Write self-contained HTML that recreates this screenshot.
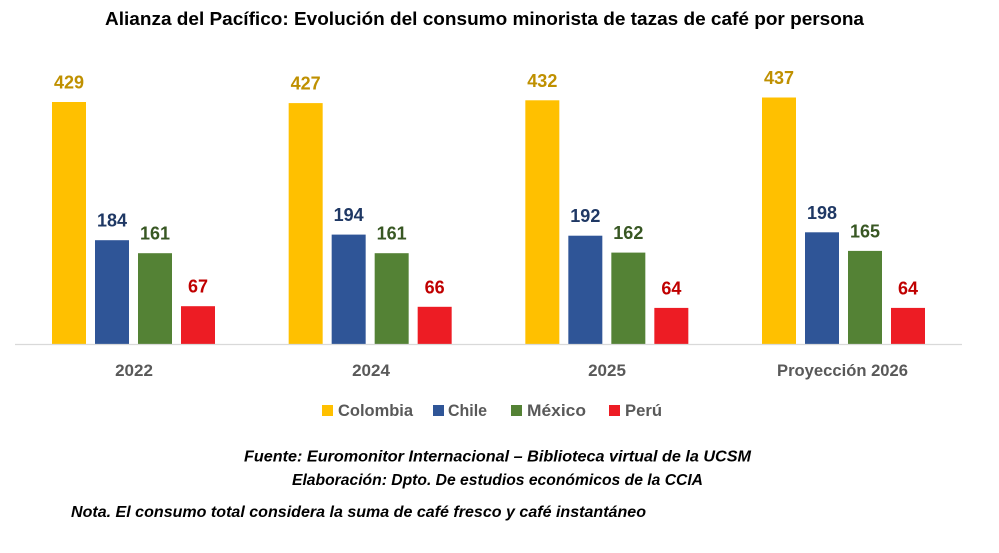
<!DOCTYPE html>
<html>
<head>
<meta charset="utf-8">
<style>
  html, body { margin: 0; padding: 0; background: #ffffff; }
  body { width: 999px; height: 553px; overflow: hidden; }
  svg { display: block; font-family: "Liberation Sans", Arial, sans-serif; }
</style>
</head>
<body>
<svg width="999" height="553" viewBox="0 0 999 553" xmlns="http://www.w3.org/2000/svg">
  <rect x="0" y="0" width="999" height="553" fill="#ffffff"/>

  <!-- Title -->
  <text x="105" y="25" font-size="18" font-weight="bold" fill="#000000" textLength="759" lengthAdjust="spacingAndGlyphs">Alianza del Pacífico: Evolución del consumo minorista de tazas de café por persona</text>

  <!-- Bars Group 1 (2022) -->
  <rect x="52" y="102" width="34" height="242" fill="#FFC000"/>
  <rect x="95" y="240.2" width="34" height="103.8" fill="#2F5597"/>
  <rect x="138" y="253.2" width="34" height="90.8" fill="#548235"/>
  <rect x="181" y="306.2" width="34" height="37.8" fill="#ED1C24"/>

  <!-- Bars Group 2 (2024) -->
  <rect x="288.67" y="103.1" width="34" height="240.9" fill="#FFC000"/>
  <rect x="331.67" y="234.6" width="34" height="109.4" fill="#2F5597"/>
  <rect x="374.67" y="253.2" width="34" height="90.8" fill="#548235"/>
  <rect x="417.67" y="306.8" width="34" height="37.2" fill="#ED1C24"/>

  <!-- Bars Group 3 (2025) -->
  <rect x="525.33" y="100.3" width="34" height="243.7" fill="#FFC000"/>
  <rect x="568.33" y="235.7" width="34" height="108.3" fill="#2F5597"/>
  <rect x="611.33" y="252.6" width="34" height="91.4" fill="#548235"/>
  <rect x="654.33" y="307.9" width="34" height="36.1" fill="#ED1C24"/>

  <!-- Bars Group 4 (Proyección 2026) -->
  <rect x="762" y="97.5" width="34" height="246.5" fill="#FFC000"/>
  <rect x="805" y="232.3" width="34" height="111.7" fill="#2F5597"/>
  <rect x="848" y="250.9" width="34" height="93.1" fill="#548235"/>
  <rect x="891" y="307.9" width="34" height="36.1" fill="#ED1C24"/>

  <!-- Axis line -->
  <line x1="15" y1="344.5" x2="962" y2="344.5" stroke="#D9D9D9" stroke-width="1.2"/>

  <!-- Data labels -->
  <g font-size="18" font-weight="bold" text-anchor="middle">
    <text x="69" y="88.5" fill="#BF9000">429</text>
    <text x="112" y="226.7" fill="#1F3864">184</text>
    <text x="155" y="239.7" fill="#385723">161</text>
    <text x="198" y="292.7" fill="#C00000">67</text>

    <text x="305.67" y="89.6" fill="#BF9000">427</text>
    <text x="348.67" y="221.1" fill="#1F3864">194</text>
    <text x="391.67" y="239.7" fill="#385723">161</text>
    <text x="434.67" y="293.3" fill="#C00000">66</text>

    <text x="542.33" y="86.8" fill="#BF9000">432</text>
    <text x="585.33" y="222.2" fill="#1F3864">192</text>
    <text x="628.33" y="239.1" fill="#385723">162</text>
    <text x="671.33" y="294.4" fill="#C00000">64</text>

    <text x="779" y="84" fill="#BF9000">437</text>
    <text x="822" y="218.8" fill="#1F3864">198</text>
    <text x="865" y="237.4" fill="#385723">165</text>
    <text x="908" y="294.4" fill="#C00000">64</text>
  </g>

  <!-- Category labels -->
  <g font-size="17" font-weight="bold" fill="#595959" text-anchor="middle">
    <text x="134" y="376">2022</text>
    <text x="371" y="376">2024</text>
    <text x="607" y="376">2025</text>
    <text x="842.5" y="376" textLength="131" lengthAdjust="spacingAndGlyphs">Proyección 2026</text>
  </g>

  <!-- Legend -->
  <rect x="322" y="405" width="11" height="11" fill="#FFC000"/>
  <rect x="433" y="405" width="11" height="11" fill="#2F5597"/>
  <rect x="511" y="405" width="11" height="11" fill="#548235"/>
  <rect x="609" y="405" width="11" height="11" fill="#ED1C24"/>
  <g font-size="17" font-weight="bold" fill="#595959">
    <text x="338" y="416" textLength="75" lengthAdjust="spacingAndGlyphs">Colombia</text>
    <text x="448" y="416" textLength="39" lengthAdjust="spacingAndGlyphs">Chile</text>
    <text x="527" y="416" textLength="59" lengthAdjust="spacingAndGlyphs">México</text>
    <text x="625" y="416" textLength="37" lengthAdjust="spacingAndGlyphs">Perú</text>
  </g>

  <!-- Footer -->
  <g font-size="16" font-weight="bold" font-style="italic" fill="#000000">
    <text x="244" y="461.5" textLength="507" lengthAdjust="spacingAndGlyphs">Fuente: Euromonitor Internacional – Biblioteca virtual de la UCSM</text>
    <text x="292" y="485" textLength="411" lengthAdjust="spacingAndGlyphs">Elaboración: Dpto. De estudios económicos de la CCIA</text>
    <text x="71" y="517" textLength="575" lengthAdjust="spacingAndGlyphs">Nota. El consumo total considera la suma de café fresco y café instantáneo</text>
  </g>
</svg>
</body>
</html>
